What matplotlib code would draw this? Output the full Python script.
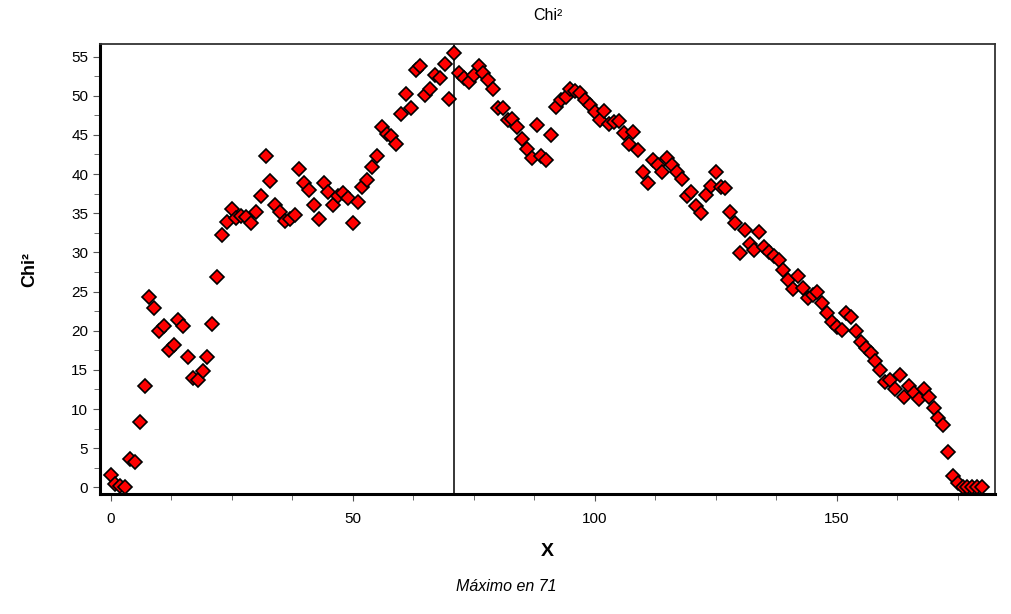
import matplotlib
matplotlib.use("Agg")
import matplotlib.pyplot as plt
from matplotlib.ticker import MultipleLocator

plt.rcParams['font.family'] = ['Liberation Sans', 'DejaVu Sans']

# chi-square value for each position 0..180
chi2 = [1.6, 0.4, 0.2, 0.1, 3.6, 3.3, 8.4, 13.0, 24.3, 22.9,
        20.0, 20.6, 17.6, 18.2, 21.4, 20.6, 16.7, 14.0, 13.7, 14.8,
        16.7, 20.9, 26.9, 32.2, 33.9, 35.5, 34.4, 34.7, 34.5, 33.8,
        35.2, 37.2, 42.3, 39.1, 36.1, 35.1, 34.0, 34.2, 34.8, 40.6,
        38.8, 37.9, 36.1, 34.3, 38.8, 37.7, 36.0, 37.2, 37.6, 36.9,
        33.8, 36.4, 38.4, 39.2, 40.9, 42.3, 46.0, 45.1, 44.8, 43.9,
        47.7, 50.2, 48.4, 53.3, 53.8, 50.1, 50.8, 52.7, 52.3, 54.1,
        49.6, 55.5, 52.9, 52.3, 51.7, 52.7, 53.8, 52.9, 52.0, 50.8,
        48.4, 48.4, 46.9, 47.0, 46.0, 44.5, 43.2, 42.0, 46.2, 42.3,
        41.8, 45.0, 48.6, 49.5, 49.8, 50.9, 50.6, 50.3, 49.5, 48.8,
        47.9, 46.9, 48.0, 46.4, 46.6, 46.8, 45.3, 43.8, 45.4, 43.1,
        40.2, 38.8, 41.8, 41.2, 40.3, 42.0, 41.1, 40.2, 39.4, 37.2,
        37.7, 35.9, 35.0, 37.3, 38.5, 40.2, 38.4, 38.2, 35.1, 33.7,
        29.9, 32.8, 31.1, 30.3, 32.6, 30.7, 30.1, 29.6, 29.0, 27.8,
        26.5, 25.3, 27.0, 25.4, 24.2, 24.5, 24.9, 23.6, 22.3, 21.1,
        20.5, 20.1, 22.2, 21.7, 19.9, 18.6, 17.8, 17.2, 16.1, 15.0,
        13.4, 13.7, 12.6, 14.4, 11.5, 12.9, 12.0, 11.3, 12.6, 11.6,
        10.1, 8.9, 7.9, 4.5, 1.5, 0.6, 0.1, 0.1, 0.1, 0.1,
        0.1]
xs = list(range(len(chi2)))
x_max = 71

fig = plt.figure(figsize=(10.12, 6.14), dpi=100)
ax = fig.add_axes([0.0988, 0.1954, 0.8844, 0.7329])

ax.axvline(x_max, color='black', lw=1.1, zorder=1)
ax.plot(xs, chi2, ls='none', marker='D', ms=7.4, mfc='#ff0000',
        mec='black', mew=1.2, zorder=3, clip_on=False)

ax.set_xlim(-2.2, 182.7)
ax.set_ylim(-0.85, 56.6)
ax.xaxis.set_major_locator(MultipleLocator(50))
ax.xaxis.set_minor_locator(MultipleLocator(12.5))
ax.yaxis.set_major_locator(MultipleLocator(5))
ax.yaxis.set_minor_locator(MultipleLocator(2.5))
ax.tick_params(which='both', direction='out', labelsize=11, color='#555555')
ax.tick_params(which='major', length=5)
ax.tick_params(which='minor', length=4)
ax.tick_params(axis='x', pad=8)

for side in ['left', 'bottom']:
    ax.spines[side].set_linewidth(2.2)
for side in ['top', 'right']:
    ax.spines[side].set_linewidth(1.3)
    ax.spines[side].set_color('#333333')

ax.set_title('Chi²', fontsize=11.5, pad=17)
ax.set_ylabel('Chi²', fontsize=13, fontweight='bold', labelpad=24)
ax.set_xlabel('X', fontsize=14, fontweight='bold', labelpad=12)
fig.text(0.5, 0.044, 'Máximo en 71', ha='center', va='center',
         fontsize=11.5, style='italic')

fig.savefig('out.png', dpi=100)
